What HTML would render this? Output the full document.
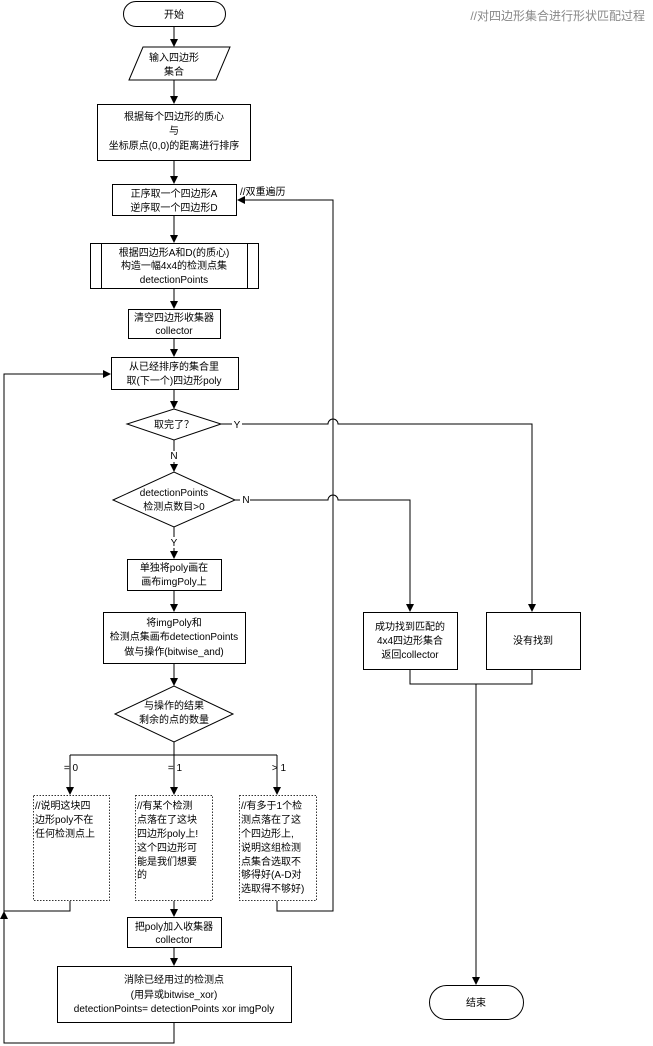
<!DOCTYPE html>
<html><head><meta charset="utf-8"><style>
body{margin:0;background:#fff;}
svg{display:block;font-family:"Liberation Sans","Noto Sans CJK SC",sans-serif;font-size:10px;}
text{fill:#000;text-anchor:middle;}
</style></head><body>
<svg width="653" height="1046" viewBox="0 0 653 1046" xmlns="http://www.w3.org/2000/svg">
<defs><marker id="a" markerWidth="8" markerHeight="8" refX="7" refY="4" orient="auto" markerUnits="userSpaceOnUse"><path d="M0,0 L8,4 L0,8 z" fill="#000"/></marker></defs>
<g fill="none" stroke="#000" stroke-width="1">
<rect x="123.5" y="1.5" width="102" height="25" rx="12.5"/>
<path d="M174,27 V46" marker-end="url(#a)"/>
<path d="M129,80 L143,47 L230,47 L216,80 Z"/>
<path d="M174,80 V103" marker-end="url(#a)"/>
<rect x="97.5" y="104.5" width="153" height="56"/>
<path d="M174,161 V183" marker-end="url(#a)"/>
<rect x="112.5" y="184.5" width="124" height="31"/>
<path d="M174,216 V242" marker-end="url(#a)"/>
<rect x="90.5" y="243.5" width="168" height="45"/>
<path d="M101.5,243.5 V288.5 M247.5,243.5 V288.5"/>
<path d="M174,289 V308" marker-end="url(#a)"/>
<rect x="128.5" y="309.5" width="92" height="29"/>
<path d="M174,339 V356" marker-end="url(#a)"/>
<rect x="111.5" y="357.5" width="127" height="32"/>
<path d="M174,390 V408" marker-end="url(#a)"/>
<path d="M127,424 L174,409 L221,424 L174,440 Z"/>
<path d="M174,440 V471" marker-end="url(#a)"/>
<path d="M113,500 L174,472 L235,500 L174,527 Z"/>
<path d="M174,527 V558" marker-end="url(#a)"/>
<rect x="127.5" y="559.5" width="94" height="31"/>
<path d="M174,591 V611" marker-end="url(#a)"/>
<rect x="103.5" y="612.5" width="142" height="51"/>
<path d="M174,664 V685" marker-end="url(#a)"/>
<path d="M115,714 L174,686 L233,714 L174,742 Z"/>
<path d="M174,742 V755 M70,755 H277 M70,755 V794 M174,755 V794 M277,755 V794" />
<path d="M70,755 V794" marker-end="url(#a)"/>
<path d="M174,755 V794" marker-end="url(#a)"/>
<path d="M277,755 V794" marker-end="url(#a)"/>
<g stroke-dasharray="1.5,1.5" stroke="#333">
<rect x="33.5" y="795.5" width="76" height="105"/>
<rect x="135.5" y="795.5" width="77" height="105"/>
<rect x="239.5" y="795.5" width="77" height="105"/>
</g>
<path d="M174,901 V916" marker-end="url(#a)"/>
<rect x="127.5" y="917.5" width="94" height="30"/>
<path d="M174,948 V965" marker-end="url(#a)"/>
<rect x="57.5" y="966.5" width="234" height="56"/>
<path d="M174,1023 V1043 H4 V374 H110" marker-end="url(#a)"/>
<path d="M70,901 V911 H4"/>
<path d="M4,922 V912" marker-end="url(#a)"/>
<path d="M277,901 V911 H333 V200 H238" marker-end="url(#a)"/>
<path d="M221,424 H328 A5,5 0 0 1 338,424 H532 V611" marker-end="url(#a)"/>
<path d="M235,500 H328 A5,5 0 0 1 338,500 H410 V611" marker-end="url(#a)"/>
<rect x="363.5" y="612.5" width="94" height="57"/>
<rect x="486.5" y="612.5" width="94" height="57"/>
<path d="M410,670 V684 H532 V670"/>
<path d="M476,684 V984" marker-end="url(#a)"/>
<rect x="429.5" y="985.5" width="94" height="34" rx="17"/>
</g>
<g fill="#fff" stroke="none"><rect x="232" y="418" width="10" height="11"/><rect x="240" y="494" width="10" height="11"/><rect x="169" y="451" width="10" height="11"/><rect x="169" y="537" width="10" height="11"/></g>
<text x="174" y="18">开始</text>
<text x="174" y="61">输入四边形</text><text x="174" y="75">集合</text>
<text x="174" y="120">根据每个四边形的质心</text><text x="174" y="134">与</text><text x="174" y="149">坐标原点(0,0)的距离进行排序</text>
<text x="174" y="197">正序取一个四边形A</text><text x="174" y="211">逆序取一个四边形D</text>
<text x="240" y="195" style="text-anchor:start">//双重遍历</text>
<text x="174" y="256">根据四边形A和D(的质心)</text><text x="174" y="269">构造一幅4x4的检测点集</text><text x="174" y="283">detectionPoints</text>
<text x="174" y="321">清空四边形收集器</text><text x="174" y="334">collector</text>
<text x="174" y="370">从已经排序的集合里</text><text x="174" y="384">取(下一个)四边形poly</text>
<text x="174" y="428">取完了？</text>
<text x="237" y="428">Y</text><text x="174" y="459">N</text>
<text x="174" y="496">detectionPoints</text><text x="174" y="510">检测点数目&gt;0</text>
<text x="246" y="503">N</text><text x="174" y="546">Y</text>
<text x="174" y="571">单独将poly画在</text><text x="174" y="585">画布imgPoly上</text>
<text x="174" y="626">将imgPoly和</text><text x="174" y="640">检测点集画布detectionPoints</text><text x="174" y="655">做与操作(bitwise_and)</text>
<text x="174" y="709">与操作的结果</text><text x="174" y="723">剩余的点的数量</text>
<text x="71" y="771">= 0</text><text x="175" y="771">= 1</text><text x="279" y="771">&gt; 1</text>
<g style="text-anchor:start">
<text x="35" y="809" style="text-anchor:start">//说明这块四</text><text x="35" y="823" style="text-anchor:start">边形poly不在</text><text x="35" y="837" style="text-anchor:start">任何检测点上</text>
<text x="137" y="809" style="text-anchor:start">//有某个检测</text><text x="137" y="823" style="text-anchor:start">点落在了这块</text><text x="137" y="837" style="text-anchor:start">四边形poly上!</text><text x="137" y="851" style="text-anchor:start">这个四边形可</text><text x="137" y="865" style="text-anchor:start">能是我们想要</text><text x="137" y="878" style="text-anchor:start">的</text>
<text x="241" y="809" style="text-anchor:start">//有多于1个检</text><text x="241" y="823" style="text-anchor:start">测点落在了这</text><text x="241" y="837" style="text-anchor:start">个四边形上,</text><text x="241" y="851" style="text-anchor:start">说明这组检测</text><text x="241" y="865" style="text-anchor:start">点集合选取不</text><text x="241" y="878" style="text-anchor:start">够得好(A-D对</text><text x="241" y="892" style="text-anchor:start">选取得不够好)</text>
</g>
<text x="174" y="930">把poly加入收集器</text><text x="174" y="943">collector</text>
<text x="174" y="983">消除已经用过的检测点</text><text x="174" y="998">(用异或bitwise_xor)</text><text x="174" y="1012">detectionPoints= detectionPoints  xor  imgPoly</text>
<text x="410" y="630">成功找到匹配的</text><text x="410" y="644">4x4四边形集合</text><text x="410" y="658">返回collector</text>
<text x="533" y="644">没有找到</text>
<text x="476" y="1006">结束</text>
<text x="645" y="20" style="text-anchor:end;fill:#888;font-size:12px">//对四边形集合进行形状匹配过程</text>
</svg>
</body></html>
